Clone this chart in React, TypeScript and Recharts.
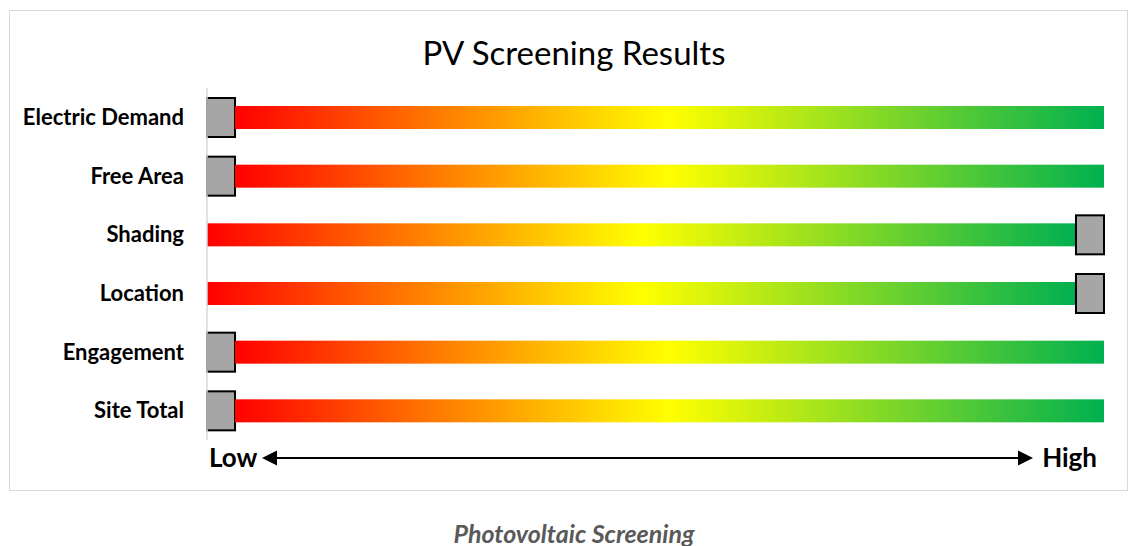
import React from 'react';
import { BarChart, Bar, XAxis, YAxis } from 'recharts';

// screening categories, top to bottom
const categories = ['Electric Demand', 'Free Area', 'Shading', 'Location', 'Engagement', 'Site Total'];
// score position on a 0..31 scale (0 = low, 31 = high)
const scores = [0, 0, 31, 31, 0, 0];
const markerSize = 1;
const scaleMax = 32;
const endLabels = ['Low', 'High'];

const data = categories.map((name, i) => ({
  name,
  before: scores[i],
  marker: markerSize,
  after: scaleMax - markerSize - scores[i],
}));

const FONT = 'Lato, "Open Sans", sans-serif';

const Marker = (props: any) => {
  const { x, y, width, height } = props;
  if (!width) return null;
  return (
    <rect
      x={x}
      y={y - 8}
      width={width}
      height={height + 16}
      fill="#A6A6A6"
      stroke="#000"
      strokeWidth={2}
    />
  );
};

const GradientBar = (props: any) => {
  const { x, y, width, height } = props;
  if (!width || width <= 0) return null;
  return <rect x={x} y={y} width={width} height={height} fill="url(#pvGrad)" />;
};

const EndTick = (props: any) => {
  const { x, y, payload } = props;
  const isLow = payload.value === 0;
  return (
    <text
      x={isLow ? x + 2 : x - 7}
      y={y + 27}
      textAnchor={isLow ? 'start' : 'end'}
      fontFamily={FONT}
      fontWeight={700}
      fontSize={26}
      fill="#000"
    >
      {isLow ? endLabels[0] : endLabels[1]}
    </text>
  );
};

export default function App() {
  return (
    <div style={{ position: 'absolute', left: 0, top: 0, width: 1129, height: 546, background: '#fff' }}>
      <div
        style={{
          position: 'absolute',
          left: 9,
          top: 10,
          width: 1117,
          height: 479,
          border: '1px solid #D9D9D9',
        }}
      />
      <div
        style={{
          position: 'absolute',
          left: 0,
          top: 32,
          width: 1148,
          textAlign: 'center',
          fontFamily: FONT,
          fontSize: 33,
          color: '#000',
        }}
      >
        PV Screening Results
      </div>
      <div style={{ position: 'absolute', left: 0, top: 0 }}>
        <BarChart
          width={1129}
          height={546}
          data={data}
          layout="vertical"
          margin={{ top: 88, right: 25, bottom: 76, left: 0 }}
          barSize={23}
        >
          <defs>
            <linearGradient id="pvGrad" x1="0" y1="0" x2="1" y2="0">
              <stop offset="0" stopColor="#FF0000" />
              <stop offset="0.2" stopColor="#FF6A00" />
              <stop offset="0.5" stopColor="#FFFF00" />
              <stop offset="1" stopColor="#00B050" />
            </linearGradient>
          </defs>
          <XAxis
            type="number"
            domain={[0, scaleMax]}
            ticks={[0, scaleMax]}
            axisLine={false}
            tickLine={false}
            tickSize={0}
            tickMargin={0}
            height={30}
            tick={<EndTick />}
            interval={0}
          />
          <YAxis
            type="category"
            dataKey="name"
            width={207}
            axisLine={{ stroke: '#D9D9D9', strokeWidth: 1.5 }}
            tickLine={false}
            tickSize={0}
            tickMargin={23}
            tick={{ fontFamily: FONT, fontWeight: 700, fontSize: 22, fill: '#000' }}
          />
          <Bar dataKey="before" stackId="s" shape={<GradientBar />} isAnimationActive={false} />
          <Bar dataKey="marker" stackId="s" shape={<Marker />} isAnimationActive={false} />
          <Bar dataKey="after" stackId="s" shape={<GradientBar />} isAnimationActive={false} />
        </BarChart>
      </div>
      <svg style={{ position: 'absolute', left: 0, top: 0 }} width={1129} height={546}>
        <line x1={272} y1={458} x2={1022} y2={458} stroke="#000" strokeWidth={2} />
        <polygon points="262,458 277,450.5 277,465.5" fill="#000" />
        <polygon points="1033,458 1018,450.5 1018,465.5" fill="#000" />
      </svg>
      <div
        style={{
          position: 'absolute',
          left: 0,
          top: 518,
          width: 1148,
          textAlign: 'center',
          fontFamily: FONT,
          fontStyle: 'italic',
          fontWeight: 700,
          fontSize: 25,
          color: '#595959',
        }}
      >
        Photovoltaic Screening
      </div>
    </div>
  );
}
